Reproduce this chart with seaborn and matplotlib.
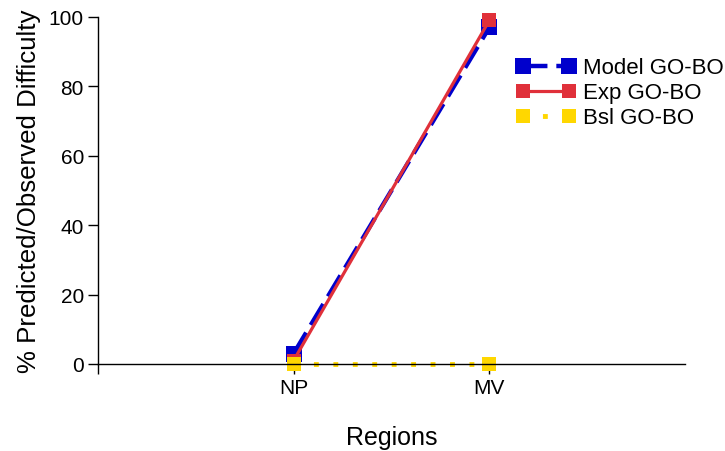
import matplotlib
matplotlib.use("Agg")
import matplotlib.pyplot as plt
import seaborn as sns
import pandas as pd

regions = ["NP", "MV"]
region_pos = [1, 2]
model_gobo = [3, 97]
exp_gobo = [1, 99]
bsl_gobo = [0, 0]

sns.set_style("white")
plt.rcParams["font.family"] = ["Liberation Sans", "DejaVu Sans"]
plt.rcParams["text.color"] = "black"
plt.rcParams["axes.labelcolor"] = "black"
plt.rcParams["xtick.color"] = "black"
plt.rcParams["ytick.color"] = "black"

fig = plt.figure(figsize=(7.25, 4.52), dpi=100)
ax = fig.add_axes([0.135, 0.1925, 0.81, 0.768])

df = pd.DataFrame({"pos": region_pos, "model": model_gobo,
                   "exp": exp_gobo, "bsl": bsl_gobo})

sns.lineplot(data=df, x="pos", y="model", ax=ax, color="#0000cc",
             linewidth=3.2, linestyle=(0, (5.5, 2)), marker="s",
             markersize=11, markeredgewidth=0, label="Model GO-BO",
             clip_on=False)
sns.lineplot(data=df, x="pos", y="exp", ax=ax, color="#e0303a",
             linewidth=2.3, marker="s", markersize=10,
             markeredgewidth=0, label="Exp GO-BO", clip_on=False)
sns.lineplot(data=df, x="pos", y="bsl", ax=ax, color="#ffd700",
             linewidth=3.5, linestyle=(0, (1, 3)), marker="s",
             markersize=10, markeredgewidth=0, label="Bsl GO-BO",
             clip_on=False)

ax.set_xlim(0, 3)
ax.set_ylim(0, 100)
ax.set_xticks([0] + region_pos)
ax.set_xticklabels([""] + regions)
ax.set_yticks([0, 20, 40, 60, 80, 100])
ax.tick_params(axis="both", direction="out", length=7, width=1,
               labelsize=15, pad=3, color="black", bottom=True, left=True)
for s in ["top", "right"]:
    ax.spines[s].set_visible(False)
for s in ["left", "bottom"]:
    ax.spines[s].set_color("black")
    ax.spines[s].set_linewidth(1)

ax.set_xlabel("Regions", fontsize=18, labelpad=20)
ax.set_ylabel("% Predicted/Observed Difficulty", fontsize=18.6, labelpad=6)

leg = ax.legend(loc="upper left", bbox_to_anchor=(0.712, 0.883), frameon=False,
                fontsize=16, numpoints=2, handlelength=2.7, handletextpad=0.3,
                labelspacing=0.18, borderaxespad=0, borderpad=0)

fig.savefig("out.png", dpi=100)
